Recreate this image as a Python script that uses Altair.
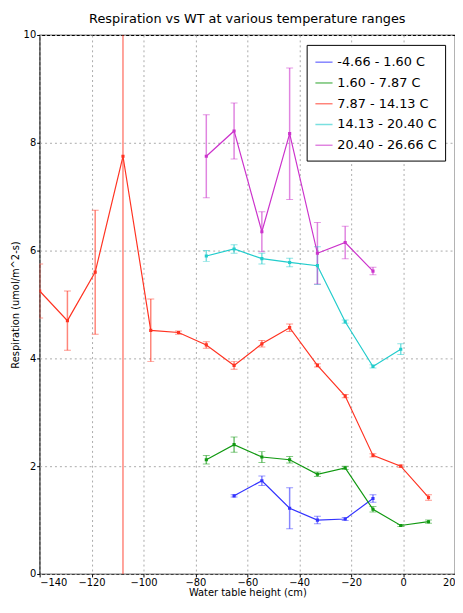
import altair as alt
import pandas as pd

xs = [-140, -129.3, -118.6, -107.9, -97.2, -86.5, -75.8, -65.1, -54.4, -43.7, -33, -22.3, -11.6, -0.9, 9.8]

ranges = ["-4.66 - 1.60 C", "1.60 - 7.87 C", "7.87 - 14.13 C", "14.13 - 20.40 C", "20.40 - 26.66 C"]
colors = ["#3333ff", "#119911", "#ff3322", "#22cccc", "#cc33cc"]

blue_x = xs[7:13]
blue_y = [1.45, 1.73, 1.22, 1.0, 1.02, 1.4]
blue_e = [0.02, 0.09, 0.38, 0.07, 0.03, 0.07]

green_x = xs[6:15]
green_y = [2.12, 2.4, 2.17, 2.12, 1.85, 1.97, 1.2, 0.9, 0.97]
green_e = [0.08, 0.14, 0.1, 0.06, 0.04, 0.03, 0.05, 0.02, 0.03]

red_x = xs
red_y = [5.25, 4.7, 5.6, 7.75, 4.52, 4.48, 4.25, 3.87, 4.27, 4.57, 3.87, 3.3, 2.2, 2.0, 1.42]
red_e = [0.5, 0.55, 1.15, 9.0, 0.58, 0.03, 0.06, 0.07, 0.06, 0.07, 0.03, 0.03, 0.03, 0.02, 0.05]

cyan_x = xs[6:14]
cyan_y = [5.9, 6.03, 5.85, 5.78, 5.72, 4.68, 3.85, 4.17]
cyan_e = [0.1, 0.08, 0.1, 0.08, 0.35, 0.03, 0.03, 0.1]

mag_x = xs[6:13]
mag_y = [7.75, 8.22, 6.35, 8.17, 5.95, 6.15, 5.62]
mag_e = [0.77, 0.52, 0.37, 1.22, 0.57, 0.3, 0.07]

rows = []
for name, x, y, e in zip(ranges, [blue_x, green_x, red_x, cyan_x, mag_x],
                         [blue_y, green_y, red_y, cyan_y, mag_y],
                         [blue_e, green_e, red_e, cyan_e, mag_e]):
    for xi, yi, ei in zip(x, y, e):
        rows.append({"wt": xi, "resp": yi, "lo": yi - ei, "hi": yi + ei, "range": name})
df = pd.DataFrame(rows)

color = alt.Color("range:N", title=None,
                  scale=alt.Scale(domain=ranges, range=colors),
                  legend=alt.Legend(orient="top-right", symbolType="stroke", symbolSize=300,
                                    fillColor="white", strokeColor="black", padding=8,
                                    labelFontSize=13, labelFont="DejaVu Sans", offset=10,
                                    rowPadding=4))
x = alt.X("wt:Q", title="Water table height (cm)",
          scale=alt.Scale(domain=[-140, 20], nice=False),
          axis=alt.Axis(values=list(range(-140, 21, 20)), gridDash=[2, 3], gridColor="#aaa"))
y = alt.Y("resp:Q", title="Respiration (umol/m^2-s)",
          scale=alt.Scale(domain=[0, 10], nice=False),
          axis=alt.Axis(values=[0, 2, 4, 6, 8, 10], gridDash=[2, 3], gridColor="#aaa"))

base = alt.Chart(df).encode(x=x, color=color)
lines = base.mark_line(strokeWidth=1.2, clip=True).encode(y=y)
pts = base.mark_square(size=10, opacity=1, clip=True).encode(y=y)
bars = base.mark_rule(opacity=0.6, strokeWidth=1.5, clip=True).encode(y="lo:Q", y2="hi:Q")
cap_lo = base.mark_tick(opacity=0.5, size=7, thickness=1, orient="horizontal", clip=True).encode(y="lo:Q")
cap_hi = base.mark_tick(opacity=0.5, size=7, thickness=1, orient="horizontal", clip=True).encode(y="hi:Q")

chart = alt.layer(bars, cap_lo, cap_hi, lines, pts).properties(
    width=420, height=545,
    title=alt.Title("Respiration vs WT at various temperature ranges", fontSize=13,
                    fontWeight="normal", font="DejaVu Sans"),
    autosize=alt.AutoSizeParams(type="none"),
    padding={"left": 32, "top": 24, "right": 0, "bottom": 22},
).configure_axis(
    labelFont="DejaVu Sans", titleFont="DejaVu Sans", labelFontSize=10, titleFontSize=10,
    titleFontWeight="normal", labelColor="black", titleColor="black", domain=False,
    tickColor="black", tickSize=3, labelPadding=1, titlePadding=0
).configure_axisY(titlePadding=3).configure_view(stroke="black", strokeWidth=1.2)

chart.save("out.html", embed_options={"renderer": "svg", "actions": False})
